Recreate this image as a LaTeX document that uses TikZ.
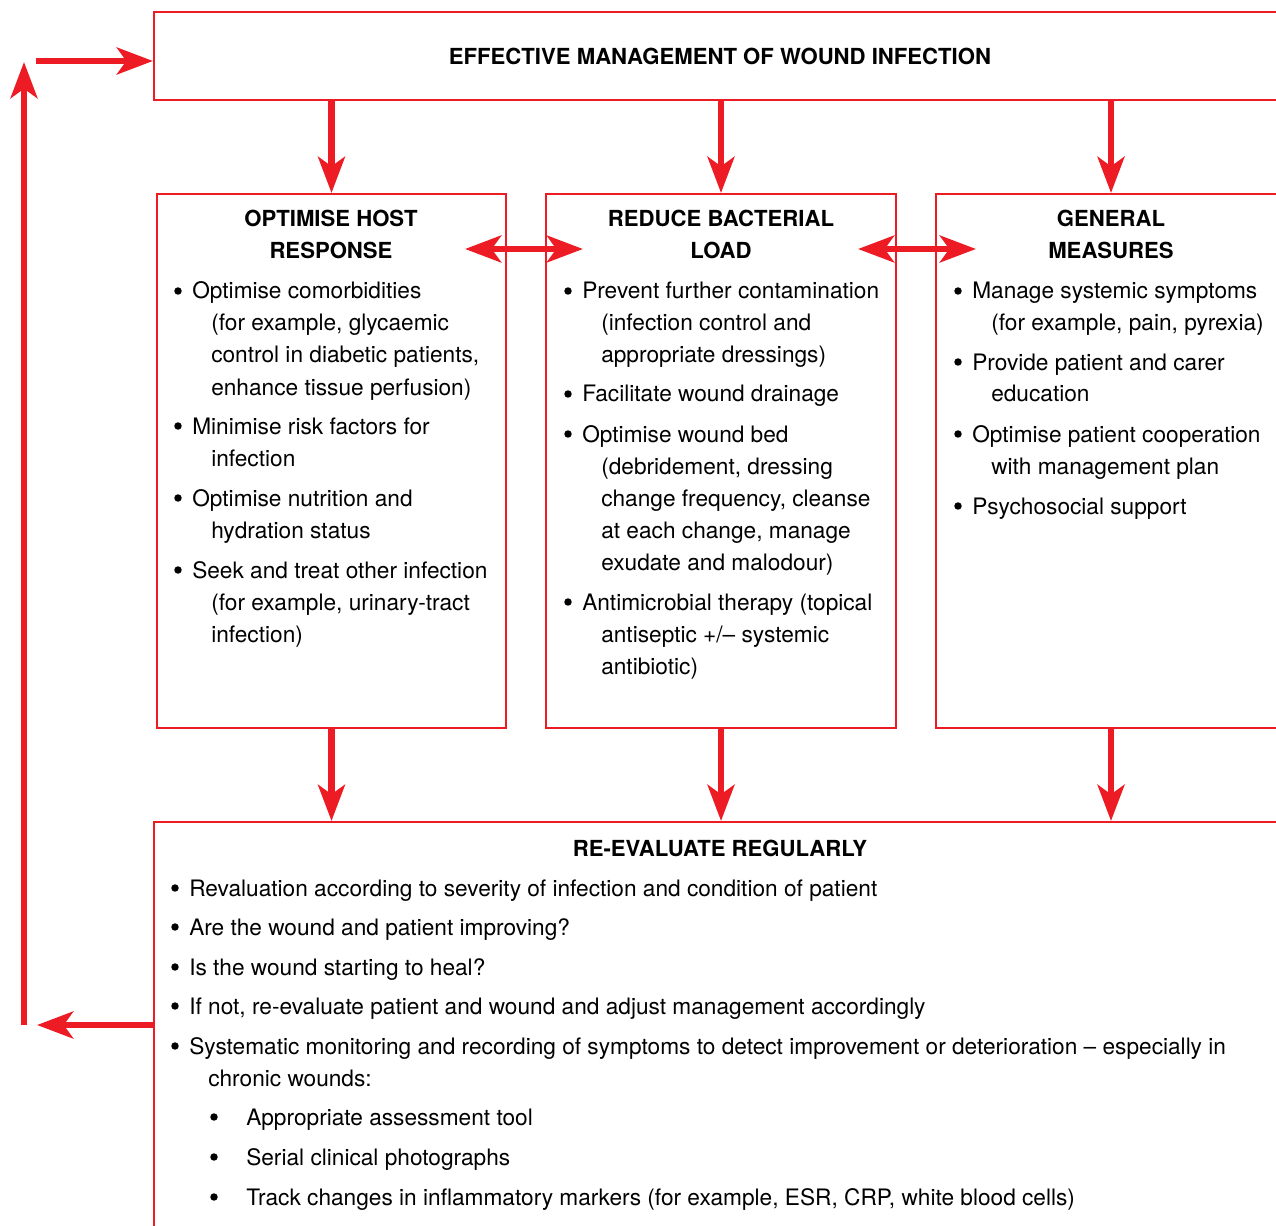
\documentclass[tikz,border=0pt]{standalone}
\usepackage{fontspec}
\setmainfont{TeX Gyre Heros}
\usetikzlibrary{arrows.meta}
\definecolor{woundred}{RGB}{237,28,36}
\tikzset{
	woundbox/.style={draw=woundred,line width=1.5pt,inner sep=0pt},
	woundarrow/.style={draw=woundred,line width=5pt,-{Stealth[length=27pt,width=20pt,inset=7pt]}},
	wounddouble/.style={draw=woundred,line width=5pt,{Stealth[length=27pt,width=20pt,inset=7pt]}-{Stealth[length=27pt,width=20pt,inset=7pt]}},
	woundtext/.style={inner sep=0pt,anchor=base west,font=\fontsize{17}{20}\selectfont},
	woundhead/.style={inner sep=0pt,anchor=base,font=\fontsize{16.6}{20}\selectfont\bfseries},
	woundbullet/.style={circle,fill=black,inner sep=0pt,minimum size=5.6pt,yshift=6pt}
}
\begin{document}
\begin{tikzpicture}[x=0.75pt,y=-0.75pt]
				\useasboundingbox (0,0) rectangle (1276,1226);
				% boxes
				\node[woundbox,minimum width=852pt,minimum height=66pt] (eff) at (722,56) {};
				\node[woundbox,minimum width=261.75pt,minimum height=400.5pt] (opt) at (331.5,461) {};
				\node[woundbox,minimum width=262.5pt,minimum height=400.5pt] (red) at (721,461) {};
				\node[woundbox,minimum width=262.5pt,minimum height=400.5pt] (gen) at (1111,461) {};
				\node[woundbox,minimum width=852pt,minimum height=313.5pt] (re) at (722,1031) {};
				% headings
				\node[woundhead] (effh) at (720,65) {EFFECTIVE MANAGEMENT OF WOUND INFECTION};
				\node[woundhead] (opth1) at (331,227) {OPTIMISE HOST};
				\node[woundhead] (opth2) at (331,259) {RESPONSE};
				\node[woundhead] (redh1) at (721,227) {REDUCE BACTERIAL};
				\node[woundhead] (redh2) at (721,259) {LOAD};
				\node[woundhead] (genh1) at (1111,227) {GENERAL};
				\node[woundhead] (genh2) at (1111,259) {MEASURES};
				\node[woundhead] (reh) at (720,856) {RE-EVALUATE REGULARLY};
				% host response
				\node[woundbullet] (ob1) at (178,299) {};
				\node[woundtext] (o1) at (192,299) {Optimise comorbidities};
				\node[woundtext] (o2) at (211,331) {(for example, glycaemic};
				\node[woundtext] (o3) at (211,363) {control in diabetic patients,};
				\node[woundtext] (o4) at (211,395) {enhance tissue perfusion)};
				\node[woundbullet] (ob2) at (178,434) {};
				\node[woundtext] (o5) at (192,434) {Minimise risk factors for};
				\node[woundtext] (o6) at (211,466) {infection};
				\node[woundbullet] (ob3) at (178,506) {};
				\node[woundtext] (o7) at (192,506) {Optimise nutrition and};
				\node[woundtext] (o8) at (211,538) {hydration status};
				\node[woundbullet] (ob4) at (178,578) {};
				\node[woundtext] (o9) at (192,578) {Seek and treat other infection};
				\node[woundtext] (o10) at (211,610) {(for example, urinary-tract};
				\node[woundtext] (o11) at (211,642) {infection)};
				% bacterial load
				\node[woundbullet] (rb1) at (568,299) {};
				\node[woundtext] (r1) at (582,299) {Prevent further contamination};
				\node[woundtext] (r2) at (601,331) {(infection control and};
				\node[woundtext] (r3) at (601,363) {appropriate dressings)};
				\node[woundbullet] (rb2) at (568,402) {};
				\node[woundtext] (r4) at (582,402) {Facilitate wound drainage};
				\node[woundbullet] (rb3) at (568,442) {};
				\node[woundtext] (r5) at (582,442) {Optimise wound bed};
				\node[woundtext] (r6) at (601,474) {(debridement, dressing};
				\node[woundtext] (r7) at (601,506) {change frequency, cleanse};
				\node[woundtext] (r8) at (601,538) {at each change, manage};
				\node[woundtext] (r9) at (601,570) {exudate and malodour)};
				\node[woundbullet] (rb4) at (568,610) {};
				\node[woundtext] (r10) at (582,610) {Antimicrobial therapy (topical};
				\node[woundtext] (r11) at (601,642) {antiseptic +/– systemic};
				\node[woundtext] (r12) at (601,674) {antibiotic)};
				% general measures
				\node[woundbullet] (gb1) at (958,299) {};
				\node[woundtext] (g1) at (972,299) {Manage systemic symptoms};
				\node[woundtext] (g2) at (991,331) {(for example, pain, pyrexia)};
				\node[woundbullet] (gb2) at (958,370) {};
				\node[woundtext] (g3) at (972,370) {Provide patient and carer};
				\node[woundtext] (g4) at (991,402) {education};
				\node[woundbullet] (gb3) at (958,442) {};
				\node[woundtext] (g5) at (972,442) {Optimise patient cooperation};
				\node[woundtext] (g6) at (991,474) {with management plan};
				\node[woundbullet] (gb4) at (958,514) {};
				\node[woundtext] (g7) at (972,514) {Psychosocial support};
				% re-evaluate
				\node[woundbullet] (eb1) at (175,896) {};
				\node[woundtext] (e1) at (189,896) {Revaluation according to severity of infection and condition of patient};
				\node[woundbullet] (eb2) at (175,935) {};
				\node[woundtext] (e2) at (189,935) {Are the wound and patient improving?};
				\node[woundbullet] (eb3) at (175,975) {};
				\node[woundtext] (e3) at (189,975) {Is the wound starting to heal?};
				\node[woundbullet] (eb4) at (175,1014) {};
				\node[woundtext] (e4) at (189,1014) {If not, re-evaluate patient and wound and adjust management accordingly};
				\node[woundbullet] (eb5) at (175,1054) {};
				\node[woundtext] (e5) at (189,1054) {Systematic monitoring and recording of symptoms to detect improvement or deterioration – especially in};
				\node[woundtext] (e6) at (208,1086) {chronic wounds:};
				\node[woundbullet] (eb6) at (214,1125) {};
				\node[woundtext] (e7) at (246,1125) {Appropriate assessment tool};
				\node[woundbullet] (eb7) at (214,1165) {};
				\node[woundtext] (e8) at (246,1165) {Serial clinical photographs};
				\node[woundbullet] (eb8) at (214,1205) {};
				\node[woundtext] (e9) at (246,1205) {Track changes in inflammatory markers (for example, ESR, CRP, white blood cells)};
				% arrows
				\draw[woundarrow] (eff.south -| opt.north) -- (opt.north);
				\draw[woundarrow] (eff.south -| red.north) -- (red.north);
				\draw[woundarrow] (eff.south -| gen.north) -- (gen.north);
				\draw[woundarrow] (opt.south) -- (opt.south |- re.north);
				\draw[woundarrow] (red.south) -- (red.south |- re.north);
				\draw[woundarrow] (gen.south) -- (gen.south |- re.north);
				\coordinate (d1a) at (465,249);
				\coordinate (d1b) at (583,249);
				\coordinate (d2a) at (858,249);
				\coordinate (d2b) at (976,249);
				\draw[wounddouble] (d1a) -- (d1b);
				\draw[wounddouble] (d2a) -- (d2b);
				% feedback loop
				\coordinate (out) at (37,1025);
				\coordinate (upb) at (24,1025);
				\coordinate (upt) at (24,62);
				\coordinate (in) at (36,61);
				\draw[woundarrow] (re.west |- out) -- (out);
				\draw[woundarrow] (upb) -- (upt);
				\draw[woundarrow] (in) -- (in -| eff.west);
			\end{tikzpicture}
\end{document}
